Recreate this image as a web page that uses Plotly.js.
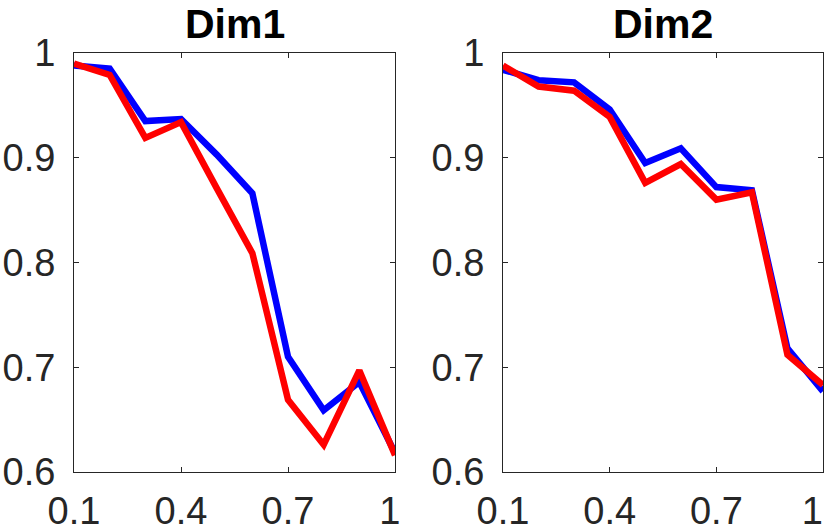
<!DOCTYPE html>
<html>
<head>
<meta charset="utf-8">
<script src="https://cdn.plot.ly/plotly-3.0.1.min.js"></script>
<style>
  html, body { margin: 0; padding: 0; background: #fff; }
  #chart { width: 830px; height: 530px; }
</style>
</head>
<body>
<div id="chart"></div>
<script>
var xs = [0.1, 0.2, 0.3, 0.4, 0.5, 0.6, 0.7, 0.8, 0.9, 1.0];

var dim1Blue = [0.988, 0.985, 0.935, 0.937, 0.903, 0.866, 0.710, 0.659, 0.686, 0.618];
var dim1Red  = [0.990, 0.979, 0.919, 0.934, 0.871, 0.809, 0.669, 0.626, 0.697, 0.616];
var dim2Blue = [0.984, 0.974, 0.972, 0.946, 0.895, 0.909, 0.872, 0.869, 0.718, 0.677];
var dim2Red  = [0.988, 0.968, 0.964, 0.939, 0.876, 0.894, 0.860, 0.867, 0.712, 0.683];

var xTicks = [0.1, 0.4, 0.7, 1.0];
var xTickText = ['0.1', '0.4', '0.7', '1'];
var yTicks = [0.6, 0.7, 0.8, 0.9, 1.0];
var yTickText = ['0.6', '0.7', '0.8', '0.9', '1'];
var titles = ['Dim1', 'Dim2'];

var ink = '#262626';
var font = 'Liberation Sans, Arial, sans-serif';
var nb = '\u00a0';

function line(x, y, color, xa, ya) {
  return {
    x: x, y: y, xaxis: xa, yaxis: ya,
    type: 'scatter', mode: 'lines',
    line: {color: color, width: 6.5},
    hoverinfo: 'skip', showlegend: false
  };
}

var data = [
  line(xs, dim1Blue, '#0000ff', 'x', 'y'),
  line(xs, dim1Red, '#ff0000', 'x', 'y'),
  line(xs, dim2Blue, '#0000ff', 'x2', 'y2'),
  line(xs, dim2Red, '#ff0000', 'x2', 'y2')
];

// pad the last label so it sits inside the figure, like the original
function padLast(labels, n) {
  return labels.map(function (t, i) {
    return i === labels.length - 1 ? t + nb.repeat(n) : t;
  });
}

function xAxis(domain, anchor, pad) {
  return {
    domain: domain, anchor: anchor,
    range: [0.1, 1.0],
    tickvals: xTicks, ticktext: padLast(xTickText, pad),
    ticks: 'inside', ticklen: 5, tickwidth: 1, tickcolor: ink,
    showline: true, linecolor: ink, linewidth: 1, mirror: 'ticks',
    showgrid: false, zeroline: false,
    tickfont: {family: font, size: 38, color: ink},
    ticklabelstandoff: 5,
    ticklabeloverflow: 'allow'
  };
}

function yAxis(anchor) {
  return {
    anchor: anchor,
    range: [0.6, 1.0],
    tickvals: yTicks, ticktext: yTickText,
    ticks: 'inside', ticklen: 5, tickwidth: 1, tickcolor: ink,
    showline: true, linecolor: ink, linewidth: 1, mirror: 'ticks',
    showgrid: false, zeroline: false,
    tickfont: {family: font, size: 38, color: ink},
    ticklabelstandoff: 10,
    ticklabeloverflow: 'allow'
  };
}

function title(text, x) {
  return {
    text: '<b>' + text + '</b>', xref: 'paper', yref: 'paper',
    x: x, y: 1, xanchor: 'center', yanchor: 'bottom', yshift: 4,
    showarrow: false, font: {family: font, size: 41, color: '#000'}
  };
}

var layout = {
  width: 830, height: 530,
  margin: {l: 74, r: 7, t: 53, b: 58},
  paper_bgcolor: '#ffffff', plot_bgcolor: '#ffffff',
  xaxis: xAxis([0, 0.4286], 'y', 1),
  yaxis: yAxis('x'),
  xaxis2: xAxis([0.5728, 1], 'y2', 2),
  yaxis2: yAxis('x2'),
  annotations: [title(titles[0], 0.2143), title(titles[1], 0.7864)]
};

Plotly.newPlot('chart', data, layout, {displayModeBar: false, staticPlot: true});
</script>
</body>
</html>
